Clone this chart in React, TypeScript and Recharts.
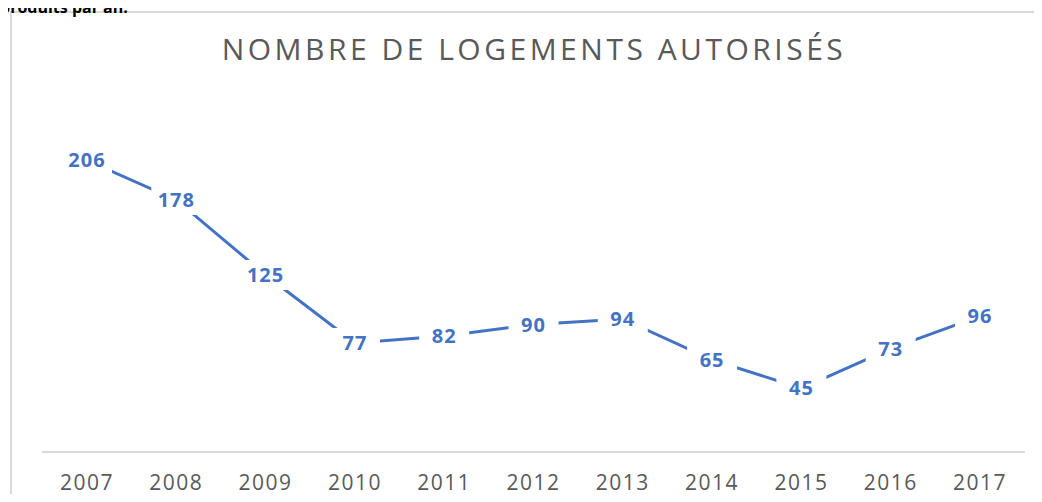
import { LineChart, Line, XAxis, YAxis, LabelList } from "recharts"

const years = ["2007", "2008", "2009", "2010", "2011", "2012", "2013", "2014", "2015", "2016", "2017"]
const logements = [206, 178, 125, 77, 82, 90, 94, 65, 45, 73, 96]

const data = years.map((y, i) => ({ year: y, value: logements[i] }))

const blue = "#4472C4"
const font = "'Open Sans', 'Liberation Sans', sans-serif"

function PointLabel(props: any) {
  const { x, y, value } = props
  return (
    <g>
      <rect x={x - 25} y={y - 15} width={50} height={30} fill="#fff" />
      <text
        x={x}
        y={y}
        dy={7}
        textAnchor="middle"
        fill={blue}
        fontSize={20}
        fontWeight={700}
        fontFamily={font}
        letterSpacing={1}
      >
        {value}
      </text>
    </g>
  )
}

export default function App() {
  return (
    <div style={{ position: "relative", margin: -8, width: 1042, height: 502, background: "#fff", overflow: "hidden" }}>
      <div
        style={{
          position: "absolute",
          left: 0,
          top: -3,
          lineHeight: "20px",
          fontFamily: font,
          fontWeight: 700,
          fontSize: 16,
          color: "#000",
          zIndex: 2,
        }}
      >
        produits par an.
      </div>
      <div
        style={{
          position: "absolute",
          left: 10,
          top: 11,
          width: 1040,
          height: 500,
          borderLeft: "2px solid #d9d9d9",
          borderTop: "2px solid #d9d9d9",
        }}
      />
      <div
        style={{
          position: "absolute",
          left: 0,
          width: 1068,
          top: 28,
          textAlign: "center",
          fontFamily: font,
          fontSize: 30,
          letterSpacing: 3.5,
          color: "#595959",
        }}
      >
        NOMBRE DE LOGEMENTS AUTORISÉS
      </div>
      <div style={{ position: "absolute", left: 0, top: 0 }}>
        <LineChart width={1042} height={502} data={data} margin={{ top: 98, right: 17, bottom: 20, left: 42 }}>
          <XAxis
            dataKey="year"
            height={30}
            padding={{ left: 45, right: 45 }}
            axisLine={{ stroke: "#d9d9d9", strokeWidth: 2 }}
            tickLine={false}
            tick={{ fill: "#595959", fontSize: 21, fontFamily: font, letterSpacing: 1.5 }}
            tickMargin={17}
            interval={0}
          />
          <YAxis hide domain={[0, 250]} />
          <Line
            dataKey="value"
            stroke={blue}
            strokeWidth={3}
            dot={false}
            isAnimationActive={false}
          >
            <LabelList dataKey="value" content={<PointLabel />} />
          </Line>
        </LineChart>
      </div>
    </div>
  )
}
